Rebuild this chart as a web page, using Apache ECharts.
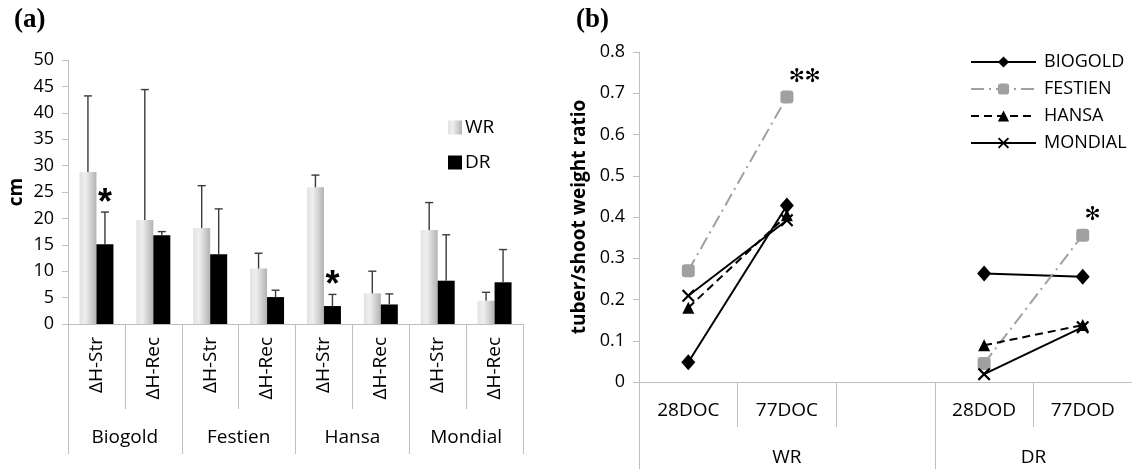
<!DOCTYPE html>
<html><head><meta charset="utf-8">
<script src="https://cdn.jsdelivr.net/npm/echarts@6/dist/echarts.min.js"></script>
<style>html,body{margin:0;padding:0;background:#fff}#c{width:1132px;height:469px}</style>
</head><body><div id="c"></div>
<script>
// ---- Panel (a) data ----
const measures = ['ΔH-Str','ΔH-Rec','ΔH-Str','ΔH-Rec','ΔH-Str','ΔH-Rec','ΔH-Str','ΔH-Rec'];
const cultivars = ['Biogold','Festien','Hansa','Mondial'];
const wrMean = [28.8, 19.7, 18.2, 10.5, 25.9, 5.8, 17.8, 4.4];
const wrSD   = [14.4, 24.7, 8.0, 2.9, 2.3, 4.2, 5.2, 1.6];
const drMean = [15.1, 16.8, 13.2, 5.1, 3.4, 3.7, 8.2, 7.9];
const drSD   = [6.1, 0.7, 8.6, 1.3, 2.2, 2.0, 8.7, 6.2];
const drSig  = ['*','','','','*','','',''];
const yTicksA = {min:0, max:50, interval:5};

// ---- Panel (b) data ----
const stages = ['28DOC','77DOC','','28DOD','77DOD'];
const regimes = ['WR','DR'];
const regimeBounds = [0, 3, 5];
const biogold = [0.048, 0.428, null, 0.263, 0.255];
const festien = [0.270, 0.691, null, 0.045, 0.356];
const hansa   = [0.180, 0.404, null, 0.089, 0.138];
const mondial = [0.209, 0.392, null, 0.019, 0.133];
const festienSig = ['', '✻✻', '', '', '✻'];
const yTicksB = {min:0, max:0.8, interval:0.1};

const FONT = 'Open Sans';
const AX = '#bfbfbf';
const txt = {fontFamily: FONT, fontSize: 18, color: '#000'};

const wrColor = new echarts.graphic.LinearGradient(0,0,1,0,[
  {offset:0, color:'#e2e2e2'},{offset:0.35, color:'#efefef'},{offset:1, color:'#b3b3b3'}]);

function errRender(offset, sigArr) {
  return function (params, api) {
    const i = api.value(0), m = api.value(1), sd = api.value(2);
    const base = api.coord([i, m]);
    const top = api.coord([i, m + sd]);
    const x = base[0] + offset;
    const st = {stroke:'#3a3a3a', lineWidth:1.4};
    const ch = [
      {type:'line', shape:{x1:x, y1:base[1], x2:x, y2:top[1]}, style:st},
      {type:'line', shape:{x1:x-4, y1:top[1], x2:x+4, y2:top[1]}, style:st}
    ];
    const s = sigArr && sigArr[params.dataIndex];
    if (s) ch.push({type:'text', style:{text:s, x:x, y:top[1]+10, align:'center', verticalAlign:'bottom',
      font:'bold 36px "Liberation Sans"', fill:'#000'}});
    return {type:'group', children:ch};
  };
}

const chart = echarts.init(document.getElementById('c'));
chart.setOption({
  animation:false,
  backgroundColor:'#fff',
  title:[
    {text:'(a)', left:14, top:7, padding:0, textStyle:{fontFamily:'Liberation Serif', fontWeight:'bold', fontSize:27, color:'#000'}},
    {text:'(b)', left:576, top:7, padding:0, textStyle:{fontFamily:'Liberation Serif', fontWeight:'bold', fontSize:27, color:'#000'}}
  ],
  legend:[
    {data:['WR','DR'], orient:'vertical', left:448, top:118, itemWidth:14, itemHeight:14, itemGap:16, padding:0,
     textStyle:Object.assign({}, txt, {fontSize:19, padding:[0,0,0,-2]}), icon:'rect'},
    {data:['BIOGOLD','FESTIEN','HANSA','MONDIAL'], orient:'vertical', left:970, top:53, itemWidth:65, itemHeight:14,
     itemGap:9, padding:0, textStyle:Object.assign({}, txt, {padding:[0,0,0,3]})}
  ],
  grid:[
    {left:68, top:60, width:455, height:264},
    {left:639, top:52, width:499, height:330}
  ],
  xAxis:[
    {type:'category', gridIndex:0, data:measures, position:'bottom',
     axisLine:{show:true, lineStyle:{color:AX}}, axisTick:{show:true, interval:0, length:85, lineStyle:{color:AX}},
     axisLabel:Object.assign({}, txt, {fontSize:19, rotate:90, margin:13, interval:0})},
    {type:'category', gridIndex:0, data:cultivars, position:'bottom',
     axisLine:{show:false}, axisTick:{show:true, interval:0, length:130, lineStyle:{color:AX}},
     axisLabel:Object.assign({}, txt, {fontSize:19, margin:104, interval:0})},
    {type:'category', gridIndex:1, data:stages, position:'bottom',
     axisLine:{show:true, lineStyle:{color:AX}}, axisTick:{show:true, interval:0, length:45, lineStyle:{color:AX}},
     axisLabel:Object.assign({}, txt, {fontSize:19, margin:19, interval:0})},
    {type:'value', gridIndex:1, min:regimeBounds[0], max:regimeBounds[2], position:'bottom',
     axisLine:{show:false}, splitLine:{show:false},
     axisTick:{show:true, length:100, lineStyle:{color:AX}, customValues:regimeBounds},
     axisLabel:Object.assign({}, txt, {fontSize:19, margin:66,
       customValues:[(regimeBounds[0]+regimeBounds[1])/2, (regimeBounds[1]+regimeBounds[2])/2],
       formatter:function(v){ return v < regimeBounds[1] ? regimes[0] : regimes[1]; }})}
  ],
  yAxis:[
    {type:'value', gridIndex:0, min:yTicksA.min, max:yTicksA.max, interval:yTicksA.interval,
     name:'cm', nameLocation:'middle', nameGap:42, nameTextStyle:{fontFamily:FONT, fontWeight:'bold', fontSize:19, color:'#000'},
     axisLine:{show:true, lineStyle:{color:AX}}, axisTick:{show:true, length:6, lineStyle:{color:AX}},
     splitLine:{show:false}, axisLabel:Object.assign({}, txt, {margin:14})},
    {type:'value', gridIndex:1, min:yTicksB.min, max:yTicksB.max, interval:yTicksB.interval,
     name:'tuber/shoot weight ratio', nameLocation:'middle', nameGap:50,
     nameTextStyle:{fontFamily:FONT, fontWeight:'bold', fontSize:19, color:'#000'},
     axisLine:{show:true, lineStyle:{color:AX}}, axisTick:{show:true, length:6, lineStyle:{color:AX}},
     splitLine:{show:false}, axisLabel:Object.assign({}, txt, {margin:14, formatter:function(v){return +v.toFixed(1)+'';}})}
  ],
  series:[
    {name:'WR', type:'bar', xAxisIndex:0, yAxisIndex:0, data:wrMean, barWidth:17, barGap:'0%',
     itemStyle:{color:wrColor}},
    {name:'DR', type:'bar', xAxisIndex:0, yAxisIndex:0, data:drMean, barWidth:17, barGap:'0%',
     itemStyle:{color:'#000'}},
    {type:'custom', xAxisIndex:0, yAxisIndex:0, z:5, renderItem:errRender(-8.5, null),
     data:wrMean.map((m,i)=>[i,m,wrSD[i]]), encode:{x:0, y:1}},
    {type:'custom', xAxisIndex:0, yAxisIndex:0, z:5, renderItem:errRender(8.5, drSig),
     data:drMean.map((m,i)=>[i,m,drSD[i]]), encode:{x:0, y:1}},
    {name:'BIOGOLD', type:'line', xAxisIndex:2, yAxisIndex:1, data:biogold, symbol:'diamond', symbolSize:[14,16],
     lineStyle:{color:'#000', width:2}, itemStyle:{color:'#000'}},
    {name:'FESTIEN', type:'line', xAxisIndex:2, yAxisIndex:1,
     data:festien.map((v,i)=> festienSig[i] ? {value:v, label:{show:true, formatter:festienSig[i]}} : v),
     symbol:'roundRect', symbolSize:13,
     label:{position:'top', align:'left', offset:[2,0], distance:4, fontFamily:'DejaVu Sans', fontSize:19, color:'#000'},
     lineStyle:{color:'#a0a0a0', width:2, type:[13,5,2,5]}, itemStyle:{color:'#a0a0a0'}},
    {name:'HANSA', type:'line', xAxisIndex:2, yAxisIndex:1, data:hansa, symbol:'triangle', symbolSize:12,
     lineStyle:{color:'#000', width:2, type:[8,5]}, itemStyle:{color:'#000'}},
    {name:'MONDIAL', type:'line', xAxisIndex:2, yAxisIndex:1, data:mondial,
     symbol:'path://M0,1.2L1.2,0L5,3.8L8.8,0L10,1.2L6.2,5L10,8.8L8.8,10L5,6.2L1.2,10L0,8.8L3.8,5Z', symbolSize:13,
     lineStyle:{color:'#000', width:2}, itemStyle:{color:'#000'}}
  ]
});
</script></body></html>
